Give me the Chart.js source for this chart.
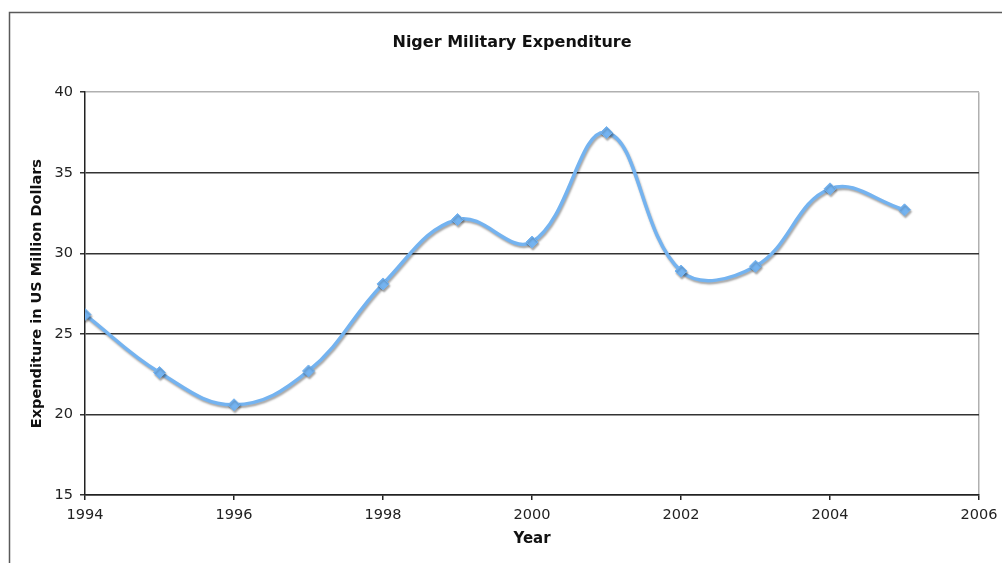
<!DOCTYPE html>
<html>
<head>
<meta charset="utf-8">
<script src="https://cdn.jsdelivr.net/npm/chart.js@4"></script>
<style>
  html, body { margin: 0; padding: 0; background: #fff; }
  #wrap { width: 1002px; height: 563px; }
</style>
</head>
<body>
<div id="wrap"><canvas id="milChart" width="1002" height="563"></canvas></div>
<script>
// Niger military expenditure, US$ million
const years = [1994, 1995, 1996, 1997, 1998, 1999, 2000, 2001, 2002, 2003, 2004, 2005];
const spending = [26.2, 22.6, 20.6, 22.7, 28.1, 32.1, 30.7, 37.5, 28.9, 29.2, 34.0, 32.7];
const xTicks = [1994, 1996, 1998, 2000, 2002, 2004, 2006];
const yTicks = [15, 20, 25, 30, 35, 40];

const FONT = "'DejaVu Sans', Verdana, sans-serif";
const lineBlue = "#74b3f0";

// outer frame (only left and top edges are inside the canvas)
const framePlugin = {
  id: "frame",
  beforeDraw(chart) {
    const c = chart.ctx;
    c.save();
    c.strokeStyle = "#5a5a5a";
    c.lineWidth = 1.5;
    c.beginPath();
    c.moveTo(9.5, chart.height);
    c.lineTo(9.5, 12.5);
    c.lineTo(chart.width, 12.5);
    c.stroke();
    c.restore();
  },
};

// soft drop shadow under the line
const shadowPlugin = {
  id: "lineShadow",
  beforeDatasetDraw(chart) {
    const c = chart.ctx;
    c.save();
    c.shadowColor = "rgba(0,0,0,0.35)";
    c.shadowBlur = 2;
    c.shadowOffsetX = 1;
    c.shadowOffsetY = 2;
  },
  afterDatasetDraw(chart) {
    chart.ctx.restore();
  },
};

const ctx = document.getElementById("milChart").getContext("2d");

new Chart(ctx, {
  type: "line",
  data: {
    datasets: [
      {
        label: "Expenditure",
        data: years.map((y, i) => ({ x: y, y: spending[i] })),
        borderColor: lineBlue,
        backgroundColor: lineBlue,
        borderWidth: 3.5,
        tension: 0.4,
        pointStyle: "rectRot",
        pointRadius: 6,
        pointBackgroundColor: lineBlue,
        pointBorderColor: lineBlue,
        pointBorderWidth: 1,
      },
    ],
  },
  options: {
    responsive: false,
    animation: false,
    layout: { padding: { left: 22, right: 0, top: 0, bottom: 0 } },
    plugins: {
      legend: { display: false },
      tooltip: { enabled: false },
      title: {
        display: true,
        text: "Niger Military Expenditure",
        color: "#111",
        font: { family: FONT, size: 16, weight: "bold" },
        padding: { top: 33, bottom: 40 },
      },
    },
    scales: {
      x: {
        type: "linear",
        min: 1994,
        max: 2006,
        afterBuildTicks: (scale) => {
          scale.ticks = xTicks.map((v) => ({ value: v }));
        },
        afterFit: (scale) => {
          scale.height = 68;
          scale.paddingRight = 23;
        },
        ticks: {
          color: "#222",
          font: { family: FONT, size: 14.5 },
          padding: 7,
          maxRotation: 0,
          callback: (v) => String(v),
        },
        grid: {
          color: (c) => (c.tick && c.tick.value === 2006 ? "#b0b0b0" : "rgba(0,0,0,0)"),
          lineWidth: 1.5,
          tickColor: "#222",
          tickLength: 5,
        },
        border: { color: "#222", width: 1.5 },
        title: {
          display: true,
          text: "Year",
          color: "#111",
          font: { family: FONT, size: 15, weight: "bold" },
          padding: { top: 0, bottom: 15 },
        },
      },
      y: {
        min: 15,
        max: 40,
        afterBuildTicks: (scale) => {
          scale.ticks = yTicks.map((v) => ({ value: v }));
        },
        afterFit: (scale) => {
          scale.width = 63;
        },
        ticks: {
          color: "#222",
          font: { family: FONT, size: 14.5 },
          padding: 7,
        },
        grid: {
          color: (c) => (c.tick && c.tick.value === 40 ? "#b0b0b0" : "#333"),
          lineWidth: 1.5,
          tickColor: "#333",
          tickLength: 5,
        },
        border: { color: "#222", width: 1.5 },
        title: {
          display: true,
          text: "Expenditure in US Million Dollars",
          color: "#111",
          font: { family: FONT, size: 14.5, weight: "bold" },
          padding: { top: 7, bottom: 0 },
        },
      },
    },
  },
  plugins: [framePlugin, shadowPlugin],
});
</script>
</body>
</html>
